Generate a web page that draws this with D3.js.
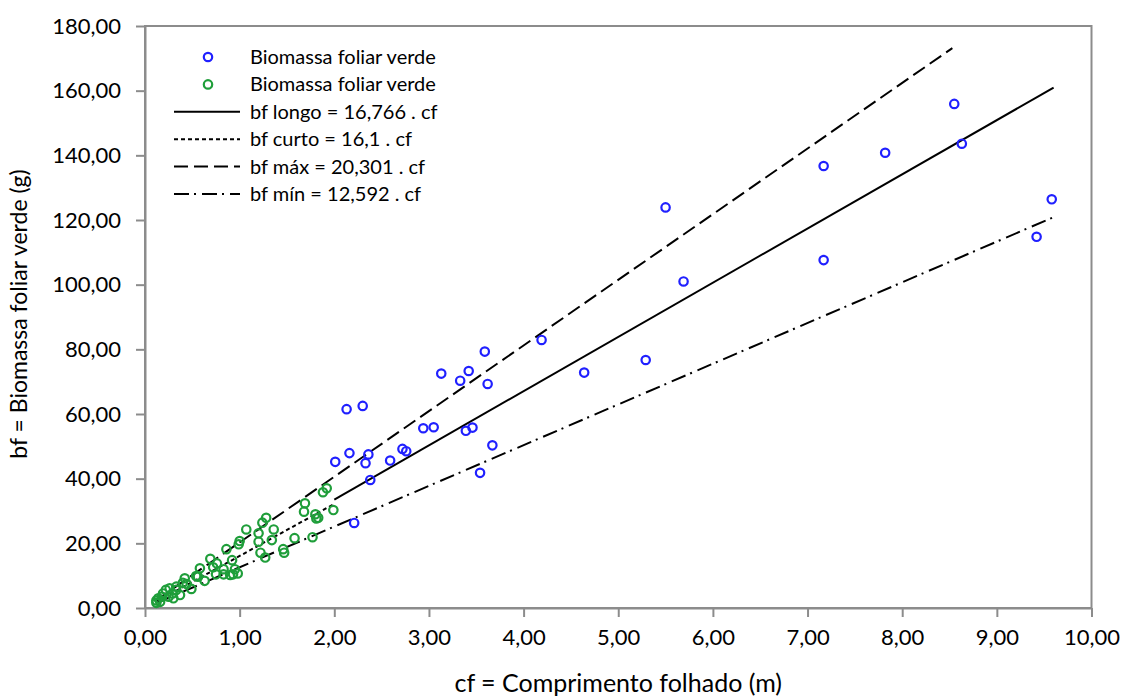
<!DOCTYPE html>
<html>
<head>
<meta charset="utf-8">
<script src="https://cdn.jsdelivr.net/npm/d3@7"></script>
<style>
body{margin:0;background:#fff;}
text{font-family:Lato,"Open Sans",sans-serif;fill:#000;}
</style>
</head>
<body>
<script>
// blue points (long shoots)
const longoCf=[2.01,2.13,2.16,2.21,2.30,2.33,2.36,2.38,2.59,2.72,2.76,2.94,3.05,3.13,3.33,3.39,3.42,3.46,3.54,3.59,3.62,3.67,4.19,4.64,5.29,5.50,5.69,7.17,7.17,7.82,8.55,8.63,9.42,9.58]
const longoBf=[45.2,61.5,47.9,26.3,62.5,44.8,47.5,39.6,45.6,49.2,48.5,55.6,55.9,72.5,70.3,54.8,73.3,55.8,41.8,79.3,69.3,50.3,82.9,72.8,76.7,123.9,101.0,136.7,107.6,140.8,155.9,143.6,114.8,126.4]
// green points (short shoots)
const curtoCf=[1.92,1.88,1.69,1.68,1.80,1.83,1.81,1.99,1.77,1.58,1.46,1.47,1.28,1.24,1.36,1.20,1.20,1.34,1.22,1.27,1.07,1.00,0.99,0.86,0.92,0.69,0.76,0.72,0.83,0.95,0.98,0.93,0.90,0.83,0.75,0.63,0.58,0.54,0.42,0.49,0.40,0.33,0.26,0.22,0.19,0.29,0.37,0.14,0.12,0.16,0.18,0.25,0.12,0.33,0.44,0.56,0.30]
const curtoBf=[37.0,35.8,32.4,29.8,29.0,27.9,27.7,30.3,21.9,21.6,18.2,17.1,27.9,26.4,24.3,23.1,20.5,21.0,17.1,15.6,24.3,20.7,19.7,18.2,14.8,15.2,13.8,12.6,12.0,12.0,10.7,10.4,10.2,10.4,10.4,8.4,12.3,9.9,9.2,5.9,7.8,6.6,6.1,5.6,4.5,4.5,4.0,3.0,2.3,1.9,3.5,3.5,1.6,5.6,7.4,9.7,3.0]
// fitted lines: bf = k . cf
const lineNames=["bf longo = 16,766 . cf","bf curto = 16,1 . cf","bf máx = 20,301 . cf","bf mín = 12,592 . cf"]
const lineK=[16.766,16.1,20.301,12.592]
const lineFrom=[2.0,0.13,0.13,0.13]
const lineTo=[9.6,2.0,8.53,9.6]
const lineDash=[null,"4,3","14,6","15,5,2,6"]
const pointNames=["Biomassa foliar verde","Biomassa foliar verde"]
const xTicks=[0,1,2,3,4,5,6,7,8,9,10]
const yTicks=[0,20,40,60,80,100,120,140,160,180]

const w=1125, h=698
const pLeft=145, pRight=1091.5, pTop=26, pBottom=608
const blue="#2020ff", green="#1f9e3a", axisGray="#8c8c8c"
const fmt=v=>d3.format(".2f")(v).replace(".",",")

const svg=d3.select("body").append("svg").attr("width",w).attr("height",h)

const xScale=d3.scaleLinear().domain([0,10]).range([pLeft,pRight])
const yScale=d3.scaleLinear().domain([0,180]).range([pBottom,pTop])

// plot frame
svg.append("rect").attr("x",pLeft).attr("y",pTop).attr("width",pRight-pLeft).attr("height",pBottom-pTop)
  .attr("fill","none").attr("stroke",axisGray).attr("stroke-width",2)

// axes
const xAxis=d3.axisBottom(xScale).tickValues(xTicks).tickFormat(fmt).tickSize(9).tickSizeOuter(0).tickPadding(12)
const yAxis=d3.axisLeft(yScale).tickValues(yTicks).tickFormat(fmt).tickSize(9).tickSizeOuter(0).tickPadding(15)
const gx=svg.append("g").attr("transform","translate(0,"+pBottom+")").call(xAxis)
const gy=svg.append("g").attr("transform","translate("+pLeft+",0)").call(yAxis)
for(const g of [gx,gy]){
  g.select(".domain").attr("stroke",axisGray).attr("stroke-width",2)
  g.selectAll(".tick line").attr("stroke",axisGray).attr("stroke-width",2)
  g.selectAll(".tick text").style("font-size","22px").attr("fill","#000")
}

// fitted lines
lineK.forEach((k,i)=>{
  svg.append("line")
    .attr("x1",xScale(lineFrom[i])).attr("y1",yScale(k*lineFrom[i]))
    .attr("x2",xScale(lineTo[i])).attr("y2",yScale(k*lineTo[i]))
    .attr("stroke","#000").attr("stroke-width",2)
    .attr("stroke-dasharray",lineDash[i])
})

// points
svg.selectAll("circle.curto").data(d3.range(curtoCf.length)).enter().append("circle")
  .attr("class","curto").attr("cx",i=>xScale(curtoCf[i])).attr("cy",i=>yScale(curtoBf[i]))
  .attr("r",4.2).attr("fill","none").attr("stroke",green).attr("stroke-width",2.2)
svg.selectAll("circle.longo").data(d3.range(longoCf.length)).enter().append("circle")
  .attr("class","longo").attr("cx",i=>xScale(longoCf[i])).attr("cy",i=>yScale(longoBf[i]))
  .attr("r",4.2).attr("fill","none").attr("stroke",blue).attr("stroke-width",2.2)

// legend
const leg=svg.append("g").attr("transform","translate(174,57)")
const rowH=27.4
;[blue,green].forEach((c,i)=>{
  leg.append("circle").attr("cx",34).attr("cy",i*rowH).attr("r",4.2)
    .attr("fill","none").attr("stroke",c).attr("stroke-width",2.2)
  leg.append("text").attr("x",76).attr("y",i*rowH).attr("dy","0.35em")
    .style("font-size","20px").text(pointNames[i])
})
lineNames.forEach((n,i)=>{
  const y=(i+2)*rowH
  leg.append("line").attr("x1",0).attr("x2",66).attr("y1",y).attr("y2",y)
    .attr("stroke","#000").attr("stroke-width",2).attr("stroke-dasharray",lineDash[i])
  leg.append("text").attr("x",76).attr("y",y).attr("dy","0.35em")
    .style("font-size","20px").text(n)
})

// axis titles
svg.append("text").attr("x",(pLeft+pRight)/2).attr("y",692).attr("text-anchor","middle")
  .style("font-size","25px").text("cf = Comprimento folhado (m)")
svg.append("text").attr("transform","translate(27,314) rotate(-90)").attr("text-anchor","middle")
  .style("font-size","23px").text("bf = Biomassa foliar verde (g)")
</script>
</body>
</html>
